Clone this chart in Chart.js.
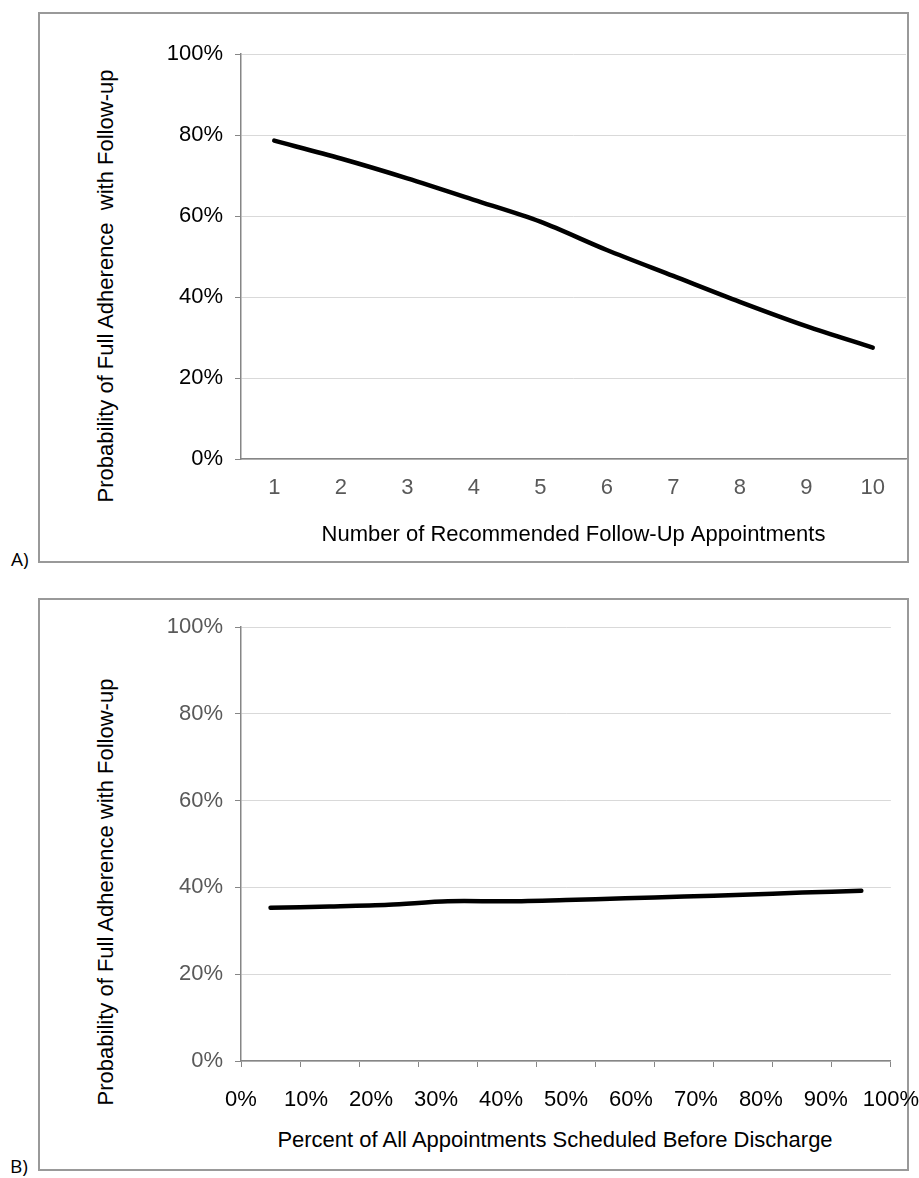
<!DOCTYPE html>
<html>
<head>
<meta charset="utf-8">
<script src="https://cdn.jsdelivr.net/npm/chart.js@4/dist/chart.umd.min.js"></script>
<style>
  body { margin: 0; background: #fff; width: 919px; height: 1178px; position: relative; overflow: hidden; }
  .marco { position: absolute; border: 2px solid #999; box-sizing: border-box; }
  .letra { position: absolute; font-family: "Open Sans", "Liberation Sans", sans-serif; font-size: 19px; color: #000; }
  .titulo { position: absolute; font-family: "Liberation Sans", Arial, sans-serif; font-size: 22px; color: #000;
            white-space: pre; transform: translate(-50%, -50%); }
  .tituloY { transform: translate(-50%, -50%) rotate(-90deg); }
  canvas { position: absolute; left: 0; }
</style>
</head>
<body>
<div class="marco" style="left:38px; top:12px; width:871px; height:551px;"></div>
<div class="marco" style="left:38px; top:598px; width:871px; height:573px;"></div>
<div class="letra" style="left:11px; top:546px;">A)</div>
<div class="letra" style="left:10px; top:1153px;">B)</div>
<div class="titulo tituloY" style="left:106px; top:286px;">Probability of Full Adherence  with Follow-up</div>
<div class="titulo tituloY" style="left:106px; top:892px;">Probability of Full Adherence with Follow-up</div>
<div class="titulo" style="left:555px; top:1140px;">Percent of All Appointments Scheduled Before Discharge</div>
<canvas id="graficoA" width="919" height="575" style="top:0;"></canvas>
<canvas id="graficoB" width="919" height="593" style="top:585px;"></canvas>
<script>
// Panel A: numero de citas recomendadas
const citasRecomendadas = ['1', '2', '3', '4', '5', '6', '7', '8', '9', '10'];
const adherenciaPorCitas = [78.6, 74.2, 69.3, 64.0, 58.6, 51.6, 45.2, 38.8, 32.8, 27.5];

// Panel B: porcentaje de citas agendadas antes del alta
const categoriasAgendadas = ['0%', '10%', '20%', '30%', '40%', '50%', '60%', '70%', '80%', '90%', '100%'];
const adherenciaPorAgendadas = [35.3, 35.6, 36.0, 36.8, 36.8, 37.1, 37.5, 37.9, 38.3, 38.8, 39.2];

const etiquetasY = ['0%', '20%', '40%', '60%', '80%', '100%'];
const etiquetasXB = ['0%', '10%', '20%', '30%', '40%', '50%', '60%', '70%', '80%', '90%', '100%'];

const FUENTE = "'Liberation Sans', Arial, sans-serif";
const GRIS_EJE = '#868686';
const GRIS_REJILLA = '#d9d9d9';

Chart.defaults.font.family = FUENTE;
Chart.defaults.font.size = 22;
Chart.defaults.color = '#000';

function ejeY(colorTicks) {
    return {
        min: 0,
        max: 100,
        ticks: {
            stepSize: 20,
            color: colorTicks,
            padding: 12,
            callback: (v, i) => etiquetasY[i]
        },
        grid: { color: GRIS_REJILLA, tickColor: GRIS_EJE, tickLength: 6 },
        border: { color: GRIS_EJE, width: 1.5 },
        afterFit: (eje) => { eje.width = 111; }
    };
}

const ctxA = document.getElementById('graficoA').getContext('2d');
new Chart(ctxA, {
    type: 'line',
    data: {
        labels: citasRecomendadas,
        datasets: [{
            data: adherenciaPorCitas,
            borderColor: '#000',
            borderWidth: 4.5,
            borderCapStyle: 'round',
            pointRadius: 0,
            tension: 0.3
        }]
    },
    options: {
        responsive: false,
        animation: false,
        devicePixelRatio: 1,
        layout: { padding: { left: 130, top: 54, right: 13, bottom: 15 } },
        plugins: { legend: { display: false }, tooltip: { enabled: false } },
        scales: {
            x: {
                offset: true,
                ticks: { color: '#595959', padding: 16, maxRotation: 0 },
                grid: { display: false, drawTicks: false },
                border: { color: GRIS_EJE, width: 1.5 },
                title: {
                    display: true,
                    text: 'Number of Recommended Follow-Up Appointments',
                    color: '#000',
                    padding: { top: 0, bottom: 12 }
                },
                afterFit: (eje) => { eje.height = 101; }
            },
            y: ejeY('#000')
        }
    }
});

const ctxB = document.getElementById('graficoB').getContext('2d');
new Chart(ctxB, {
    type: 'line',
    data: {
        labels: categoriasAgendadas,
        datasets: [{
            data: adherenciaPorAgendadas,
            borderColor: '#000',
            borderWidth: 4.5,
            borderCapStyle: 'round',
            pointRadius: 0,
            tension: 0.3,
            xAxisID: 'x'
        }]
    },
    options: {
        responsive: false,
        animation: false,
        devicePixelRatio: 1,
        layout: { padding: { left: 130, top: 42, right: 28, bottom: 13 } },
        plugins: { legend: { display: false }, tooltip: { enabled: false } },
        scales: {
            // eje de categorias: solo marcas entre categorias
            x: {
                position: 'bottom',
                weight: 0,
                offset: true,
                ticks: { display: false },
                grid: { offset: true, drawOnChartArea: false, color: GRIS_EJE, tickLength: 6 },
                border: { color: GRIS_EJE, width: 1.5 },
                afterFit: (eje) => { eje.height = 26; }
            },
            // eje de etiquetas 0% - 100%
            x2: {
                type: 'linear',
                position: 'bottom',
                weight: 1,
                min: 0,
                max: 100,
                ticks: {
                    stepSize: 10,
                    color: '#000',
                    padding: 0,
                    maxRotation: 0,
                    callback: (v, i) => etiquetasXB[i]
                },
                grid: { display: false, drawTicks: false },
                border: { display: false },
                afterFit: (eje) => { eje.height = 78; }
            },
            y: ejeY('#595959')
        }
    }
});
</script>
</body>
</html>
